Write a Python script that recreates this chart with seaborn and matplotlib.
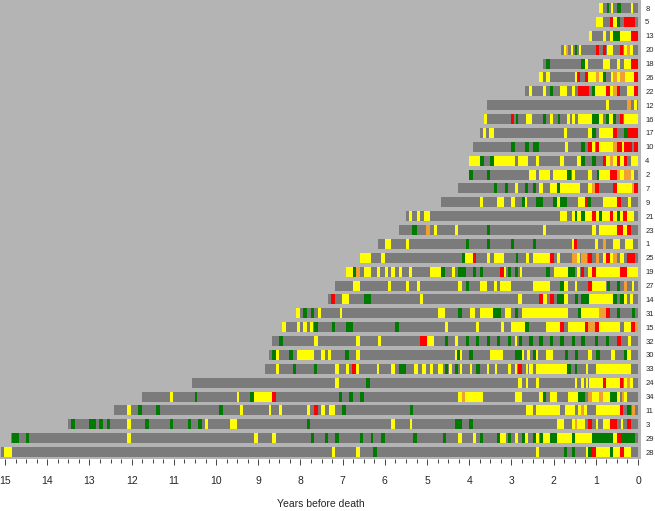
import pandas as pd
import numpy as np
import matplotlib
matplotlib.use('Agg')
import matplotlib.pyplot as plt
from matplotlib.ticker import MultipleLocator
import seaborn as sns

# subjects from top to bottom, and time of first record (years before death)
subjects = ['8', '5', '13', '20', '18', '26', '22', '12', '16', '17', '10', '4', '2', '7', '9',
            '21', '23', '1', '25', '19', '27', '14', '31', '15', '32', '30', '33', '24', '34',
            '11', '3', '29', '28']
first_visit = [0.92, 1.00, 1.16, 1.83, 2.25, 2.34, 2.68, 3.59, 3.66, 3.75, 3.92, 4.00, 4.00,
               4.26, 4.66, 5.49, 5.67, 6.16, 6.58, 6.93, 7.17, 7.35, 8.10, 8.43, 8.67, 8.75,
               8.85, 10.57, 11.76, 12.43, 13.50, 14.87, 15.10]

# episodes: (subject, from, to) in years before death
yellow_eps = [
    ('8', 0.92, 0.84), ('8', 0.65, 0.60), ('8', 0.17, 0.11),
    ('5', 1.00, 0.84), ('5', 0.60, 0.51),
    ('13', 1.16, 1.10), ('13', 0.84, 0.77), ('13', 0.66, 0.60), ('13', 0.43, 0.17),
    ('20', 1.76, 1.71), ('20', 1.60, 1.55), ('20', 1.39, 1.34), ('20', 0.74, 0.60), ('20', 0.33, 0.27), ('20', 0.19, 0.11),
    ('18', 1.26, 1.18), ('18', 0.82, 0.66), ('18', 0.51, 0.43), ('18', 0.33, 0.17),
    ('26', 2.34, 2.26), ('26', 2.17, 2.09), ('26', 1.50, 1.44), ('26', 1.18, 1.00), ('26', 0.92, 0.84), ('26', 0.65, 0.60),
    ('26', 0.51, 0.43), ('26', 0.31, 0.09),
    ('22', 2.58, 2.52), ('22', 2.25, 2.17), ('22', 1.84, 1.68), ('22', 1.56, 1.50), ('22', 1.02, 0.76), ('22', 0.66, 0.60),
    ('22', 0.27, 0.09),
    ('12', 0.76, 0.68), ('12', 0.09, 0.02),
    ('16', 3.66, 3.59), ('16', 2.66, 2.52), ('16', 2.09, 2.01), ('16', 1.69, 1.61), ('16', 1.57, 1.50), ('16', 1.42, 1.08),
    ('16', 0.92, 0.82), ('16', 0.70, 0.59), ('16', 0.33, 0.0),
    ('17', 3.67, 3.61), ('17', 3.53, 3.42), ('17', 1.76, 1.68), ('17', 1.18, 1.10), ('17', 0.92, 0.59),
    ('10', 1.73, 1.65), ('10', 1.10, 1.02), ('10', 0.92, 0.60), ('10', 0.39, 0.33),
    ('4', 4.00, 3.75), ('4', 3.42, 2.92), ('4', 2.84, 2.60), ('4', 2.42, 2.34), ('4', 1.84, 1.76), ('4', 1.44, 1.34),
    ('4', 0.76, 0.66), ('4', 0.59, 0.51), ('4', 0.43, 0.33), ('4', 0.17, 0.0),
    ('2', 2.58, 2.42), ('2', 2.34, 2.09), ('2', 2.01, 1.68), ('2', 1.57, 1.50), ('2', 1.18, 1.10), ('2', 0.92, 0.66),
    ('2', 0.43, 0.33), ('2', 0.17, 0.09),
    ('7', 2.92, 2.84), ('7', 2.34, 2.25), ('7', 2.09, 1.91), ('7', 1.84, 1.38), ('7', 1.18, 1.10), ('7', 0.51, 0.15),
    ('9', 3.75, 3.67), ('9', 3.34, 3.18), ('9', 3.00, 2.92), ('9', 2.68, 2.63), ('9', 1.91, 1.84), ('9', 1.42, 1.26),
    ('9', 0.84, 0.51), ('9', 0.23, 0.17),
    ('21', 5.43, 5.35), ('21', 5.25, 5.17), ('21', 5.08, 4.92), ('21', 1.84, 1.68), ('21', 1.57, 1.50), ('21', 1.44, 1.34),
    ('21', 1.26, 1.10), ('21', 1.00, 0.92), ('21', 0.86, 0.66), ('21', 0.59, 0.51), ('21', 0.43, 0.35), ('21', 0.27, 0.09),
    ('23', 4.84, 4.76), ('23', 4.34, 4.26), ('23', 2.25, 2.17), ('23', 1.08, 1.00), ('23', 0.92, 0.51), ('23', 0.35, 0.27),
    ('1', 6.00, 5.85), ('1', 5.51, 5.43), ('1', 1.57, 1.52), ('1', 1.02, 0.94), ('1', 0.60, 0.43), ('1', 0.31, 0.11),
    ('25', 6.58, 6.34), ('25', 6.08, 6.00), ('25', 4.11, 3.91), ('25', 3.59, 3.51), ('25', 3.42, 3.18), ('25', 2.66, 2.58),
    ('25', 2.50, 2.09), ('25', 1.91, 1.84), ('25', 1.44, 1.38), ('25', 0.84, 0.76), ('25', 0.66, 0.60), ('25', 0.43, 0.33),
    ('19', 6.93, 6.76), ('19', 6.50, 6.34), ('19', 6.19, 6.11), ('19', 6.00, 5.93), ('19', 5.85, 5.77), ('19', 5.66, 5.59),
    ('19', 5.43, 5.35), ('19', 4.92, 4.68), ('19', 4.42, 4.34), ('19', 3.18, 3.12), ('19', 2.80, 2.74), ('19', 1.99, 1.65),
    ('19', 1.44, 1.38), ('19', 1.18, 1.10), ('19', 1.00, 0.43), ('19', 0.25, 0.0),
    ('27', 6.76, 6.58), ('27', 5.93, 5.85), ('27', 5.51, 5.43), ('27', 5.25, 5.17), ('27', 4.26, 4.18), ('27', 3.75, 3.59),
    ('27', 3.42, 3.34), ('27', 3.26, 3.02), ('27', 2.50, 2.09), ('27', 1.76, 1.65), ('27', 1.49, 1.44), ('27', 1.08, 0.76),
    ('27', 0.15, 0.10),
    ('14', 7.01, 6.84), ('14', 5.17, 5.09), ('14', 2.84, 2.74), ('14', 2.25, 2.15), ('14', 1.76, 1.65), ('14', 1.16, 0.59),
    ('14', 0.33, 0.27), ('14', 0.19, 0.11),
    ('31', 8.10, 8.01), ('31', 7.59, 7.51), ('31', 7.07, 7.01), ('31', 4.74, 4.58), ('31', 3.99, 3.87), ('31', 3.75, 3.43),
    ('31', 3.16, 3.02), ('31', 2.74, 1.65), ('31', 1.34, 0.92),
    ('15', 8.43, 8.34), ('15', 8.08, 8.01), ('15', 7.93, 7.85), ('15', 7.77, 7.71), ('15', 4.58, 4.50), ('15', 3.84, 3.77),
    ('15', 3.24, 3.18), ('15', 3.00, 2.68), ('15', 2.17, 1.84), ('15', 1.65, 1.26), ('15', 0.92, 0.43), ('15', 0.33, 0.17),
    ('32', 7.67, 7.59), ('32', 6.68, 6.60), ('32', 6.16, 6.08), ('32', 5.00, 4.84), ('32', 4.34, 4.26), ('32', 2.92, 2.86),
    ('32', 0.23, 0.17),
    ('30', 8.57, 8.50), ('30', 8.08, 7.67), ('30', 7.51, 7.43), ('30', 7.35, 7.27), ('30', 6.68, 6.60), ('30', 4.34, 4.28),
    ('30', 4.22, 4.17), ('30', 3.50, 3.20), ('30', 2.76, 2.70), ('30', 2.64, 2.56), ('30', 2.42, 2.37), ('30', 2.17, 2.01),
    ('30', 1.18, 1.10), ('30', 0.63, 0.55), ('30', 0.25, 0.17),
    ('33', 8.59, 8.51), ('33', 7.17, 7.09), ('33', 6.93, 6.85), ('33', 6.68, 6.61), ('33', 6.19, 6.15), ('33', 5.85, 5.77),
    ('33', 5.30, 5.21), ('33', 5.11, 5.03), ('33', 4.94, 4.86), ('33', 4.74, 4.62), ('33', 4.48, 4.42), ('33', 4.22, 4.18),
    ('33', 3.99, 3.93), ('33', 3.59, 3.53), ('33', 3.39, 3.34), ('33', 3.08, 3.02), ('33', 2.92, 2.86), ('33', 2.66, 2.60),
    ('33', 2.58, 2.50), ('33', 2.42, 1.68), ('33', 1.23, 1.18), ('33', 1.00, 0.17),
    ('24', 7.17, 7.09), ('24', 2.84, 2.76), ('24', 2.66, 2.60), ('24', 2.42, 2.34), ('24', 1.50, 1.44), ('24', 1.34, 1.28),
    ('24', 1.23, 1.18), ('24', 1.16, 0.84), ('24', 0.76, 0.43), ('24', 0.33, 0.27), ('24', 0.19, 0.11),
    ('34', 11.09, 11.03), ('34', 9.51, 9.45), ('34', 9.09, 8.67), ('34', 4.26, 4.18), ('34', 4.11, 3.67), ('34', 2.92, 2.76),
    ('34', 2.34, 2.25), ('34', 2.09, 1.91), ('34', 1.65, 1.42), ('34', 1.10, 0.92), ('34', 0.84, 0.66), ('34', 0.51, 0.43),
    ('34', 0.33, 0.25),
    ('11', 12.10, 12.02), ('11', 9.43, 9.35), ('11', 8.75, 8.69), ('11', 8.50, 8.43), ('11', 7.85, 7.77), ('11', 7.51, 7.43),
    ('11', 7.33, 7.17), ('11', 2.66, 2.50), ('11', 2.42, 1.84), ('11', 1.73, 1.50), ('11', 1.42, 1.34), ('11', 1.28, 1.22),
    ('11', 1.00, 0.43),
    ('3', 12.10, 12.02), ('3', 10.26, 10.18), ('3', 9.68, 9.51), ('3', 5.85, 5.77), ('3', 5.41, 5.35), ('3', 1.91, 1.76),
    ('3', 1.57, 1.50), ('3', 1.44, 1.26), ('3', 1.00, 0.94), ('3', 0.82, 0.66), ('3', 0.41, 0.35),
    ('29', 12.10, 12.02), ('29', 9.09, 9.01), ('29', 8.67, 8.59), ('29', 4.26, 4.18), ('29', 3.91, 3.84), ('29', 3.26, 3.12),
    ('29', 2.92, 2.84), ('29', 2.68, 2.60), ('29', 2.42, 2.34), ('29', 2.25, 2.09), ('29', 1.91, 1.57), ('29', 1.50, 1.08),
    ('29', 0.59, 0.51),
    ('28', 15.02, 14.84), ('28', 7.25, 7.17), ('28', 6.68, 6.60), ('28', 2.42, 2.34), ('28', 1.23, 1.18), ('28', 1.00, 0.66),
    ('28', 0.59, 0.43), ('28', 0.33, 0.17),
]

green_eps = [
    ('8', 0.74, 0.68), ('8', 0.51, 0.40),
    ('5', 0.51, 0.43),
    ('13', 0.59, 0.43),
    ('20', 1.50, 1.44),
    ('18', 2.17, 2.09), ('18', 1.34, 1.26),
    ('26', 0.84, 0.76),
    ('22', 2.09, 2.01), ('22', 1.08, 1.02),
    ('16', 2.90, 2.84), ('16', 2.25, 2.18), ('16', 1.89, 1.84), ('16', 1.08, 0.92), ('16', 0.76, 0.70), ('16', 0.59, 0.52),
    ('17', 1.10, 1.00), ('17', 0.33, 0.25),
    ('10', 3.01, 2.92), ('10', 2.68, 2.58), ('10', 2.50, 2.34), ('10', 1.34, 1.26),
    ('4', 3.75, 3.66), ('4', 3.51, 3.42), ('4', 1.34, 1.26), ('4', 1.10, 1.00),
    ('2', 4.00, 3.92), ('2', 3.59, 3.50), ('2', 1.68, 1.60), ('2', 0.98, 0.92),
    ('7', 3.42, 3.34), ('7', 3.16, 3.08), ('7', 2.68, 2.60), ('7', 2.50, 2.42), ('7', 1.91, 1.84),
    ('9', 2.76, 2.68), ('9', 2.42, 2.25), ('9', 2.01, 1.91), ('9', 1.84, 1.68), ('9', 1.18, 1.12),
    ('21', 1.50, 1.44), ('21', 1.34, 1.26), ('21', 0.92, 0.86), ('21', 0.51, 0.43),
    ('23', 5.35, 5.25), ('23', 3.59, 3.50),
    ('1', 4.08, 4.00), ('1', 3.59, 3.51), ('1', 3.01, 2.94), ('1', 2.50, 2.42),
    ('25', 4.18, 4.11), ('25', 2.90, 2.84),
    ('19', 6.76, 6.69), ('19', 4.68, 4.58), ('19', 4.26, 4.08), ('19', 3.92, 3.84), ('19', 3.75, 3.67), ('19', 3.08, 3.00),
    ('19', 2.92, 2.84), ('19', 2.17, 2.09), ('19', 1.65, 1.50),
    ('27', 4.08, 4.00), ('27', 1.84, 1.76), ('27', 0.74, 0.66), ('27', 0.51, 0.43),
    ('14', 6.50, 6.34), ('14', 1.93, 1.76), ('14', 1.50, 1.42), ('14', 1.34, 1.16), ('14', 0.59, 0.51), ('14', 0.43, 0.33),
    ('31', 7.93, 7.85), ('31', 7.75, 7.67), ('31', 4.26, 4.18), ('31', 3.43, 3.24), ('31', 2.92, 2.84), ('31', 1.42, 1.34),
    ('31', 0.51, 0.43), ('31', 0.15, 0.07),
    ('15', 7.67, 7.59), ('15', 7.25, 7.17), ('15', 6.91, 6.76), ('15', 5.75, 5.67), ('15', 2.68, 2.58),
    ('32', 8.51, 8.42), ('32', 4.58, 4.50), ('32', 4.08, 4.00), ('32', 3.84, 3.77), ('32', 3.59, 3.51), ('32', 3.34, 3.26),
    ('32', 3.08, 3.00), ('32', 2.82, 2.74), ('32', 2.58, 2.50), ('32', 2.34, 2.25), ('32', 2.09, 2.01), ('32', 1.84, 1.76),
    ('32', 1.57, 1.50), ('32', 1.34, 1.26), ('32', 1.02, 0.94), ('32', 0.76, 0.68),
    ('30', 8.67, 8.59), ('30', 8.26, 8.18), ('30', 6.94, 6.86), ('30', 4.28, 4.22), ('30', 4.00, 3.92), ('30', 2.92, 2.76),
    ('30', 2.50, 2.42), ('30', 1.73, 1.65), ('30', 1.50, 1.42), ('30', 1.00, 0.90), ('30', 0.33, 0.25),
    ('33', 8.18, 8.10), ('33', 7.69, 7.61), ('33', 5.67, 5.51), ('33', 4.58, 4.50), ('33', 4.34, 4.26), ('33', 3.84, 3.75),
    ('33', 1.68, 1.60), ('33', 1.50, 1.44),
    ('24', 6.44, 6.36),
    ('34', 10.51, 10.44), ('34', 9.19, 9.11), ('34', 7.09, 7.01), ('34', 6.84, 6.76), ('34', 6.58, 6.50), ('34', 2.25, 2.17),
    ('34', 1.42, 1.26), ('34', 0.66, 0.51),
    ('11', 11.84, 11.76), ('11', 11.42, 11.34), ('11', 9.92, 9.84), ('11', 7.01, 6.93), ('11', 5.41, 5.33), ('11', 0.25, 0.17),
    ('3', 13.44, 13.34), ('3', 13.01, 12.85), ('3', 12.77, 12.69), ('3', 12.59, 12.52), ('3', 11.68, 11.60), ('3', 11.09, 11.01),
    ('3', 10.67, 10.59), ('3', 10.42, 10.34), ('3', 7.85, 7.77), ('3', 4.34, 4.18), ('3', 4.00, 3.92),
    ('29', 14.84, 14.68), ('29', 14.51, 14.43), ('29', 7.75, 7.67), ('29', 7.43, 7.35), ('29', 7.17, 7.09), ('29', 6.60, 6.52),
    ('29', 6.34, 6.27), ('29', 6.08, 6.00), ('29', 5.33, 5.25), ('29', 4.62, 4.54), ('29', 3.75, 3.67), ('29', 3.34, 3.26),
    ('29', 3.08, 3.02), ('29', 2.76, 2.68), ('29', 2.50, 2.42), ('29', 2.33, 2.25), ('29', 2.09, 1.91), ('29', 1.57, 1.50),
    ('29', 1.08, 0.59), ('29', 0.41, 0.07),
    ('28', 6.27, 6.19), ('28', 1.76, 1.68), ('28', 1.57, 1.50), ('28', 1.18, 1.10), ('28', 0.66, 0.59),
]

red_eps = [
    ('5', 0.66, 0.60), ('5', 0.33, 0.07),
    ('13', 0.17, 0.0),
    ('20', 1.00, 0.92), ('20', 0.84, 0.76), ('20', 0.43, 0.35),
    ('18', 0.17, 0.0),
    ('26', 1.44, 1.38), ('26', 1.26, 1.18), ('26', 0.09, 0.0),
    ('22', 1.42, 1.16), ('22', 0.76, 0.66), ('22', 0.51, 0.43), ('22', 0.09, 0.0),
    ('16', 3.01, 2.94), ('16', 0.43, 0.36),
    ('17', 0.59, 0.49), ('17', 0.25, 0.0),
    ('10', 1.18, 1.10), ('10', 1.00, 0.92), ('10', 0.51, 0.39), ('10', 0.33, 0.15), ('10', 0.09, 0.0),
    ('4', 0.84, 0.76), ('4', 0.51, 0.43), ('4', 0.33, 0.25),
    ('2', 0.66, 0.51),
    ('7', 1.02, 0.92), ('7', 0.60, 0.51), ('7', 0.09, 0.0),
    ('9', 1.26, 1.18), ('9', 0.51, 0.41),
    ('21', 1.08, 1.00), ('21', 0.66, 0.59), ('21', 0.35, 0.27),
    ('23', 0.51, 0.35), ('23', 0.27, 0.17),
    ('1', 1.52, 1.44),
    ('25', 3.91, 3.84), ('25', 2.09, 1.99), ('25', 1.18, 1.10), ('25', 0.76, 0.66), ('25', 0.25, 0.07),
    ('19', 3.26, 3.18), ('19', 1.34, 1.28), ('19', 1.08, 1.00), ('19', 0.43, 0.25),
    ('27', 1.18, 1.10),
    ('14', 7.27, 7.17), ('14', 2.34, 2.25), ('14', 2.09, 1.99),
    ('31', 0.76, 0.66),
    ('15', 1.84, 1.76), ('15', 1.26, 1.18), ('15', 1.02, 0.92), ('15', 0.17, 0.07),
    ('32', 5.17, 5.00), ('32', 0.51, 0.41),
    ('33', 6.77, 6.68), ('33', 2.84, 2.76),
    ('24', 0.84, 0.76), ('24', 0.43, 0.35),
    ('34', 8.67, 8.59),
    ('11', 7.67, 7.59), ('11', 0.43, 0.35),
    ('3', 1.18, 1.08), ('3', 0.66, 0.51), ('3', 0.25, 0.17),
    ('29', 0.51, 0.41),
    ('28', 1.10, 1.00), ('28', 0.43, 0.33),
]

orange_eps = [
    ('20', 1.71, 1.65), ('20', 0.27, 0.19),
    ('26', 1.00, 0.92), ('26', 0.60, 0.51), ('26', 0.43, 0.31),
    ('22', 0.60, 0.51),
    ('12', 0.25, 0.17),
    ('10', 0.60, 0.51),
    ('4', 0.66, 0.59),
    ('2', 0.51, 0.43), ('2', 0.33, 0.17),
    ('7', 1.10, 1.02), ('7', 0.15, 0.09),
    ('23', 5.02, 4.94),
    ('1', 0.84, 0.76),
    ('25', 1.57, 1.44), ('25', 1.34, 1.22), ('25', 1.00, 0.92), ('25', 0.60, 0.51),
    ('19', 6.68, 6.60),
    ('27', 0.33, 0.27),
    ('31', 0.92, 0.76),
    ('15', 1.18, 1.02), ('15', 0.07, 0.0),
    ('24', 0.25, 0.19),
    ('34', 4.18, 4.11), ('34', 1.18, 1.10), ('34', 0.92, 0.84), ('34', 0.39, 0.33),
    ('11', 1.34, 1.28), ('11', 0.15, 0.07),
    ('3', 1.50, 1.44),
]

bar_gray = '#7b7b7b'
state_colors = {'yellow': '#ffff00', 'green': '#007a00', 'red': '#ff0000', 'orange': '#f0a030'}
bar_h = 0.72

sns.set_style('white')
plt.rcParams['font.family'] = ['Liberation Sans', 'DejaVu Sans']

fig = plt.figure(figsize=(6.55, 5.11), dpi=100)
ax = fig.add_axes([0, 52 / 511, 641 / 655, 459 / 511])
ax.set_facecolor('#b4b4b4')

df = pd.DataFrame({'subject': subjects, 'years': first_visit})
sns.barplot(data=df, x='years', y='subject', order=subjects, orient='h', color=bar_gray,
            saturation=1, width=bar_h, errorbar=None, linewidth=0, ax=ax)

pos = {s: i for i, s in enumerate(subjects)}
for name, eps in [('yellow', yellow_eps), ('green', green_eps), ('red', red_eps), ('orange', orange_eps)]:
    ep = pd.DataFrame(eps, columns=['subject', 'start', 'end'])
    ax.barh(ep['subject'].map(pos), ep['start'] - ep['end'], left=ep['end'], height=bar_h,
            color=state_colors[name], linewidth=0)

ax.set_xlim(15.12, -0.07)
ax.set_ylim(32.5, -0.58)
sns.despine(ax=ax, left=True, bottom=True)

ax.xaxis.set_minor_locator(MultipleLocator(0.25))
ax.set_xticks(range(0, 16))
ax.set_xticklabels([str(i) for i in range(0, 16)])
ax.tick_params(axis='x', which='major', bottom=True, length=4.5, width=0.7, color='#444444',
               labelsize=7.5, pad=8)
ax.tick_params(axis='x', which='minor', bottom=True, length=2.6, width=0.7, color='#444444')

ax.yaxis.tick_right()
ax.tick_params(axis='y', length=0, pad=3, labelsize=5.5)
ax.set_ylabel('')
ax.set_xlabel('Years before death', fontsize=7.5, labelpad=9)

fig.savefig('out.png', dpi=100)
